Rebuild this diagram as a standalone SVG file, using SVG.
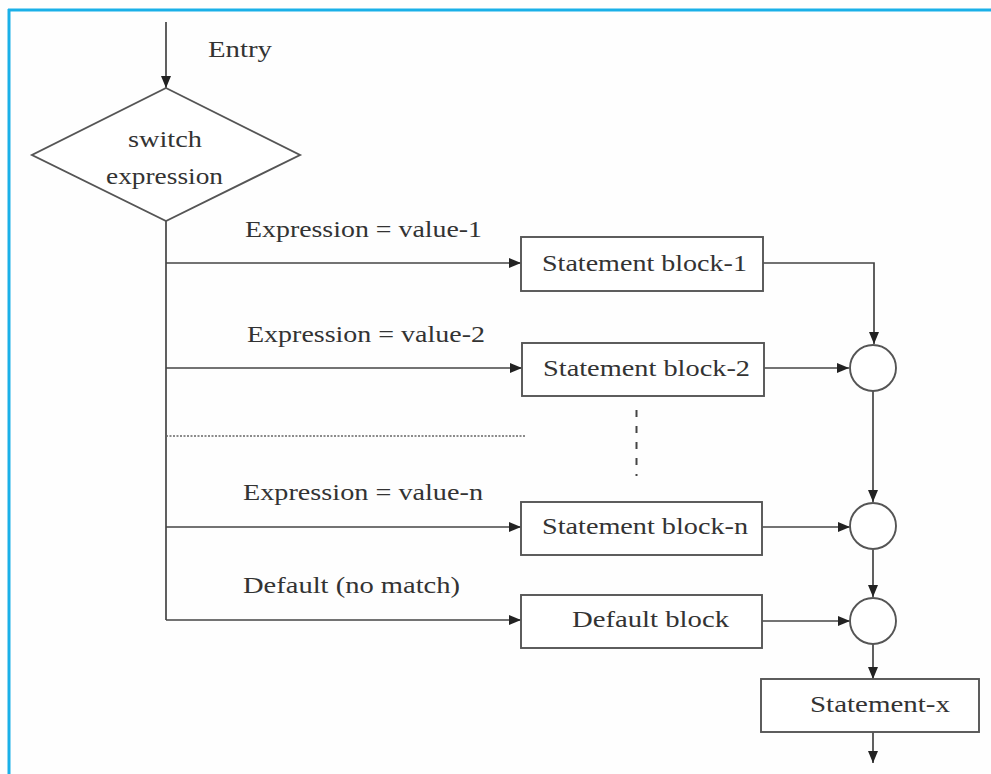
<svg xmlns="http://www.w3.org/2000/svg" width="991" height="774" viewBox="0 0 991 774">
<defs>
<marker id="arr" viewBox="0 0 12 10" refX="12" refY="5" markerWidth="12" markerHeight="10" markerUnits="userSpaceOnUse" orient="auto">
<path d="M0,0 L12,5 L0,10 z" fill="#222"/>
</marker>
<style>
.ln{stroke:#444;stroke-width:1.7;fill:none}
.box{stroke:#555;stroke-width:1.9;fill:#fff}
.t{font-family:"Liberation Serif","DejaVu Serif",serif;font-size:23.5px;fill:#333}
</style>
</defs>
<rect x="0" y="0" width="991" height="774" fill="#fefefe"/>
<g id="frame">
<line x1="8" y1="10" x2="991" y2="10" stroke="#1ab0e8" stroke-width="3"/>
<line x1="9" y1="9" x2="9" y2="774" stroke="#1ab0e8" stroke-width="3"/>
</g>
<g id="connectors">
<line class="ln" x1="166" y1="22" x2="166" y2="88" marker-end="url(#arr)"/>
<line class="ln" x1="166" y1="221" x2="166" y2="620"/>
<line class="ln" x1="166" y1="263" x2="521" y2="263" marker-end="url(#arr)"/>
<line class="ln" x1="166" y1="368" x2="522" y2="368" marker-end="url(#arr)"/>
<line class="ln" x1="166" y1="527" x2="521" y2="527" marker-end="url(#arr)"/>
<line class="ln" x1="166" y1="620" x2="521" y2="620" marker-end="url(#arr)"/>
<line x1="166" y1="436" x2="525" y2="436" stroke="#666" stroke-width="1.6" stroke-dasharray="2,1.5"/>
<line x1="636.5" y1="410" x2="636.5" y2="476" stroke="#444" stroke-width="2" stroke-dasharray="7,9"/>
<polyline class="ln" points="763,263 874,263 874,344" marker-end="url(#arr)"/>
<line class="ln" x1="764" y1="368" x2="849" y2="368" marker-end="url(#arr)"/>
<line class="ln" x1="873" y1="391" x2="873" y2="502" marker-end="url(#arr)"/>
<line class="ln" x1="762" y1="527" x2="850" y2="527" marker-end="url(#arr)"/>
<line class="ln" x1="873" y1="550" x2="873" y2="597" marker-end="url(#arr)"/>
<line class="ln" x1="762" y1="621" x2="850" y2="621" marker-end="url(#arr)"/>
<line class="ln" x1="873" y1="644" x2="873" y2="679" marker-end="url(#arr)"/>
<line class="ln" x1="873" y1="732" x2="873" y2="763" marker-end="url(#arr)"/>
</g>
<g id="labels">
<text class="t" x="208" y="57" textLength="64" lengthAdjust="spacingAndGlyphs">Entry</text>
<text class="t" x="245" y="237" textLength="237" lengthAdjust="spacingAndGlyphs">Expression = value-1</text>
<text class="t" x="247" y="342" textLength="238" lengthAdjust="spacingAndGlyphs">Expression = value-2</text>
<text class="t" x="243" y="500" textLength="240" lengthAdjust="spacingAndGlyphs">Expression = value-n</text>
<text class="t" x="243" y="593" textLength="217" lengthAdjust="spacingAndGlyphs">Default (no match)</text>
</g>
<g id="switch">
<polygon class="box" points="166,88 300,155 166,221 32,155"/>
<text class="t" x="128" y="147" textLength="74" lengthAdjust="spacingAndGlyphs">switch</text>
<text class="t" x="106" y="184" textLength="117" lengthAdjust="spacingAndGlyphs">expression</text>
</g>
<g id="block1">
<rect class="box" x="521" y="237" width="242" height="54"/>
<text class="t" x="542" y="271" textLength="205" lengthAdjust="spacingAndGlyphs">Statement block-1</text>
</g>
<g id="block2">
<rect class="box" x="522" y="343" width="242" height="53"/>
<text class="t" x="543" y="376" textLength="207" lengthAdjust="spacingAndGlyphs">Statement block-2</text>
</g>
<g id="blockn">
<rect class="box" x="521" y="502" width="241" height="53"/>
<text class="t" x="542" y="534" textLength="206" lengthAdjust="spacingAndGlyphs">Statement block-n</text>
</g>
<g id="defaultblock">
<rect class="box" x="521" y="595" width="241" height="53"/>
<text class="t" x="572" y="627" textLength="157" lengthAdjust="spacingAndGlyphs">Default block</text>
</g>
<g id="join2"><circle class="box" cx="873" cy="368" r="23"/></g>
<g id="joinn"><circle class="box" cx="873" cy="526" r="23"/></g>
<g id="joindefault"><circle class="box" cx="873" cy="621" r="23"/></g>
<g id="statementx">
<rect class="box" x="761" y="679" width="218" height="53"/>
<text class="t" x="810" y="712" textLength="140" lengthAdjust="spacingAndGlyphs">Statement-x</text>
</g>
</svg>
